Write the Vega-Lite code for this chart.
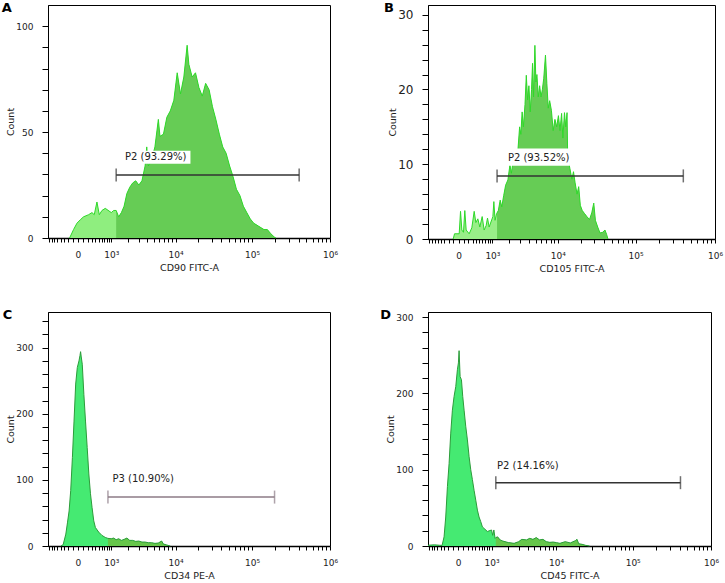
{
  "$schema": "https://vega.github.io/schema/vega-lite/v6.json",
  "background": "white",
  "padding": {"left": 1, "top": 1, "right": 2, "bottom": 1},
  "datasets": {
    "a": [
      {"v": -168, "n": 0}, {"v": -83, "n": 4}, {"v": -18, "n": 7}, {"v": 42, "n": 8.6}, {"v": 107, "n": 10}, {"v": 220, "n": 11}, {"v": 306, "n": 12}, {"v": 369, "n": 11}, {"v": 449, "n": 17}, {"v": 524, "n": 11}, {"v": 616, "n": 13}, {"v": 740, "n": 14}, {"v": 1000, "n": 12}, {"v": 1118, "n": 13}, {"v": 1247, "n": 13}, {"v": 1389, "n": 10}, {"v": 1554, "n": 12}, {"v": 1732, "n": 15}, {"v": 1931, "n": 21}, {"v": 2159, "n": 24}, {"v": 2407, "n": 26}, {"v": 2683, "n": 27}, {"v": 3000, "n": 25}, {"v": 3344, "n": 27}, {"v": 3728, "n": 34}, {"v": 3942, "n": 43}, {"v": 4169, "n": 34}, {"v": 4647, "n": 37}, {"v": 5179, "n": 43}, {"v": 5794, "n": 56}, {"v": 6105, "n": 48}, {"v": 6828, "n": 49}, {"v": 7610, "n": 57}, {"v": 8483, "n": 60}, {"v": 9487, "n": 65}, {"v": 10540, "n": 78}, {"v": 11660, "n": 68}, {"v": 12940, "n": 76}, {"v": 14320, "n": 91}, {"v": 15090, "n": 82}, {"v": 16700, "n": 76}, {"v": 18480, "n": 78}, {"v": 20510, "n": 71}, {"v": 22700, "n": 67}, {"v": 25120, "n": 73}, {"v": 27880, "n": 70}, {"v": 30860, "n": 62}, {"v": 34150, "n": 56}, {"v": 37910, "n": 49}, {"v": 41950, "n": 43}, {"v": 46420, "n": 40}, {"v": 51520, "n": 34}, {"v": 57020, "n": 29}, {"v": 63100, "n": 23}, {"v": 70040, "n": 20}, {"v": 77500, "n": 15}, {"v": 85770, "n": 12}, {"v": 95210, "n": 9}, {"v": 105300, "n": 7}, {"v": 122500, "n": 5.5}, {"v": 142500, "n": 4}, {"v": 157500, "n": 4}, {"v": 174700, "n": 2}, {"v": 193000, "n": 0.5}, {"v": 203200, "n": 0}
    ],
    "b": [
      {"v": -100, "n": 0}, {"v": -73, "n": 0.7}, {"v": 12, "n": 0.7}, {"v": 36, "n": 3.7}, {"v": 61, "n": 1.2}, {"v": 93, "n": 0.9}, {"v": 120, "n": 3.8}, {"v": 149, "n": 1.2}, {"v": 217, "n": 0.7}, {"v": 282, "n": 1.5}, {"v": 344, "n": 3.7}, {"v": 391, "n": 2.2}, {"v": 450, "n": 2.7}, {"v": 512, "n": 1.6}, {"v": 590, "n": 3.0}, {"v": 660, "n": 1.2}, {"v": 735, "n": 1.8}, {"v": 788, "n": 2.8}, {"v": 856, "n": 1.6}, {"v": 1022, "n": 3.0}, {"v": 1068, "n": 5.0}, {"v": 1127, "n": 2.5}, {"v": 1204, "n": 3.4}, {"v": 1230, "n": 3.5}, {"v": 1299, "n": 3.8}, {"v": 1403, "n": 5.2}, {"v": 1497, "n": 4.3}, {"v": 1616, "n": 5.8}, {"v": 1745, "n": 7.2}, {"v": 1904, "n": 7.9}, {"v": 2055, "n": 9.9}, {"v": 2170, "n": 8.8}, {"v": 2317, "n": 10.5}, {"v": 2501, "n": 11.5}, {"v": 2700, "n": 11}, {"v": 2914, "n": 15}, {"v": 3043, "n": 14}, {"v": 3180, "n": 17}, {"v": 3321, "n": 15}, {"v": 3508, "n": 18}, {"v": 3664, "n": 21.9}, {"v": 3828, "n": 18.6}, {"v": 3999, "n": 20.5}, {"v": 4178, "n": 17}, {"v": 4364, "n": 20}, {"v": 4508, "n": 23.5}, {"v": 4658, "n": 19}, {"v": 4867, "n": 25.9}, {"v": 5028, "n": 21}, {"v": 5195, "n": 22}, {"v": 5428, "n": 19}, {"v": 5671, "n": 20.5}, {"v": 5924, "n": 19}, {"v": 6188, "n": 20}, {"v": 6464, "n": 21.5}, {"v": 6826, "n": 24.6}, {"v": 7131, "n": 20.8}, {"v": 7447, "n": 17.5}, {"v": 7780, "n": 18.5}, {"v": 8217, "n": 17.2}, {"v": 8678, "n": 14.5}, {"v": 9165, "n": 16}, {"v": 9678, "n": 15}, {"v": 10196, "n": 16.5}, {"v": 10704, "n": 14.5}, {"v": 11237, "n": 16.8}, {"v": 11683, "n": 13.5}, {"v": 12263, "n": 16.9}, {"v": 12749, "n": 15}, {"v": 13256, "n": 16.9}, {"v": 13515, "n": 11}, {"v": 14465, "n": 9.4}, {"v": 15336, "n": 8.0}, {"v": 16099, "n": 9.0}, {"v": 16899, "n": 7.5}, {"v": 17919, "n": 6.0}, {"v": 18810, "n": 7.0}, {"v": 19745, "n": 4.5}, {"v": 20925, "n": 3.8}, {"v": 22398, "n": 3.4}, {"v": 23975, "n": 3.0}, {"v": 25920, "n": 2.6}, {"v": 27733, "n": 3.5}, {"v": 29400, "n": 4.8}, {"v": 30865, "n": 2.5}, {"v": 33040, "n": 1.6}, {"v": 35360, "n": 0.8}, {"v": 38220, "n": 0.9}, {"v": 40910, "n": 1.2}, {"v": 42950, "n": 0.6}, {"v": 44650, "n": 0}
    ],
    "c": [
      {"v": -392, "n": 0}, {"v": -328, "n": 2}, {"v": -258, "n": 18}, {"v": -218, "n": 35}, {"v": -179, "n": 53}, {"v": -143, "n": 84}, {"v": -107, "n": 134}, {"v": -74, "n": 189}, {"v": -42, "n": 245}, {"v": -12, "n": 270}, {"v": 18, "n": 280}, {"v": 36, "n": 288}, {"v": 48, "n": 294}, {"v": 61, "n": 286}, {"v": 81, "n": 275}, {"v": 114, "n": 229}, {"v": 149, "n": 189}, {"v": 187, "n": 149}, {"v": 226, "n": 109}, {"v": 267, "n": 79}, {"v": 309, "n": 58}, {"v": 355, "n": 38}, {"v": 402, "n": 28}, {"v": 504, "n": 21}, {"v": 616, "n": 16}, {"v": 739, "n": 13}, {"v": 850, "n": 11.5}, {"v": 1000, "n": 11}, {"v": 1116, "n": 12}, {"v": 1245, "n": 9.5}, {"v": 1389, "n": 11}, {"v": 1551, "n": 8.5}, {"v": 1730, "n": 10}, {"v": 1931, "n": 12}, {"v": 2154, "n": 8.5}, {"v": 2404, "n": 8.5}, {"v": 2683, "n": 7}, {"v": 2994, "n": 7.5}, {"v": 3341, "n": 6}, {"v": 3728, "n": 6}, {"v": 4160, "n": 5}, {"v": 4642, "n": 5}, {"v": 5179, "n": 4}, {"v": 5780, "n": 4.5}, {"v": 6449, "n": 7.5}, {"v": 6813, "n": 3}, {"v": 7603, "n": 1.5}, {"v": 8483, "n": 0}
    ],
    "d": [
      {"v": -850, "n": 1}, {"v": -601, "n": 1.5}, {"v": -437, "n": 1}, {"v": -359, "n": 0.8}, {"v": -305, "n": 12}, {"v": -262, "n": 38}, {"v": -220, "n": 78}, {"v": -181, "n": 108}, {"v": -144, "n": 148}, {"v": -109, "n": 178}, {"v": -75, "n": 196}, {"v": -42, "n": 209}, {"v": -12, "n": 231}, {"v": 6, "n": 240}, {"v": 18, "n": 256}, {"v": 37, "n": 222}, {"v": 62, "n": 218}, {"v": 88, "n": 196}, {"v": 116, "n": 178}, {"v": 151, "n": 157}, {"v": 189, "n": 139}, {"v": 229, "n": 117}, {"v": 270, "n": 100}, {"v": 313, "n": 87}, {"v": 359, "n": 73}, {"v": 408, "n": 60}, {"v": 458, "n": 47}, {"v": 510, "n": 38}, {"v": 566, "n": 32}, {"v": 625, "n": 25}, {"v": 687, "n": 23}, {"v": 818, "n": 19}, {"v": 1000, "n": 21}, {"v": 1055, "n": 14}, {"v": 1114, "n": 21}, {"v": 1176, "n": 10}, {"v": 1215, "n": 11}, {"v": 1310, "n": 12}, {"v": 1460, "n": 8}, {"v": 1627, "n": 6.5}, {"v": 2019, "n": 4.5}, {"v": 2506, "n": 3.5}, {"v": 2948, "n": 5.7}, {"v": 3284, "n": 8.7}, {"v": 3862, "n": 8}, {"v": 4303, "n": 10}, {"v": 4795, "n": 8.7}, {"v": 5343, "n": 11}, {"v": 5953, "n": 8}, {"v": 6633, "n": 8.7}, {"v": 7388, "n": 5.7}, {"v": 8233, "n": 4.8}, {"v": 9171, "n": 5.2}, {"v": 10207, "n": 4.4}, {"v": 11306, "n": 3.5}, {"v": 13318, "n": 5.7}, {"v": 15530, "n": 4}, {"v": 18110, "n": 7}, {"v": 19055, "n": 8.7}, {"v": 20055, "n": 3}, {"v": 22220, "n": 2.2}, {"v": 24610, "n": 0.9}, {"v": 27830, "n": 0}
    ],
    "gates": [
      {"p": "A", "g1": 1247, "g2": 403000, "gy": 29.8, "label": "P2 (93.29%)", "lx": 1790, "ly": 38.2, "bx1": 1554, "bx2": 15850, "by1": 35, "by2": 41.2},
      {"p": "B", "g1": 1230, "g2": 399600, "gy": 8.44, "label": "P2 (93.52%)", "lx": 1904, "ly": 10.9, "bx1": 1803, "bx2": 14465, "by1": 9.8, "by2": 12.1},
      {"p": "C", "g1": 850, "g2": 195000, "gy": 74, "label": "P3 (10.90%)", "lx": 1056, "ly": 101.7},
      {"p": "D", "g1": 1215, "g2": 408000, "gy": 83, "label": "P2 (14.16%)", "lx": 1282, "ly": 105}
    ]
  },
  "columns": 2,
  "spacing": {"row": 73, "column": 98},
  "bounds": "flush",
  "concat": [
    {
      "width": 282, "height": 233,
      "title": {"text": "A"},
      "layer": [
        {"data": {"name": "a"}, "mark": {"type": "area", "color": "#8fee7f"},
         "encoding": {
           "x": {"field": "v", "type": "quantitative", "title": "CD90 FITC-A",
                 "scale": {"type": "symlog", "constant": 600, "domain": [-850, 1000000], "nice": false, "zero": false},
                 "axis": {"tickCount": 500, "labelOverlap": false, "labelFlush": false, "values": [-800,-700,-600,-500,-400,-300,-200,-100,0,100,200,300,400,500,600,700,800,900,1000,2000,3000,4000,5000,6000,7000,8000,9000,10000,20000,30000,40000,50000,60000,70000,80000,90000,100000,200000,300000,400000,500000,600000,700000,800000,900000,1000000],
                          "labelExpr": "datum.value === 0 ? '0' : datum.value === 1000 ? '10³' : datum.value === 10000 ? '10⁴' : datum.value === 100000 ? '10⁵' : datum.value === 1000000 ? '10⁶' : ''"}},
           "y": {"field": "n", "type": "quantitative", "title": "Count",
                 "scale": {"domain": [0, 110], "nice": false},
                 "axis": {"tickCount": 500, "labelOverlap": false, "values": [0,10,20,30,40,50,60,70,80,90,100], "labelExpr": "datum.value % 50 === 0 ? format(datum.value, 'd') : ''"}}
         }},
        {"data": {"name": "a"}, "transform": [{"filter": "datum.v >= 1247"}], "mark": {"type": "area", "color": "#66cc55"},
         "encoding": {"x": {"field": "v", "type": "quantitative", "title": "CD90 FITC-A"}, "y": {"field": "n", "type": "quantitative", "title": "Count"}}},
        {"data": {"name": "a"}, "mark": {"type": "line", "color": "#2fd82a", "strokeWidth": 1},
         "encoding": {"x": {"field": "v", "type": "quantitative", "title": "CD90 FITC-A"}, "y": {"field": "n", "type": "quantitative", "title": "Count"}}},
        {"data": {"name": "gates"}, "transform": [{"filter": "datum.p === 'A'"}], "mark": {"type": "rect", "color": "#ffffff"},
         "encoding": {"x": {"field": "bx1", "type": "quantitative", "title": "CD90 FITC-A"}, "x2": {"field": "bx2"}, "y": {"field": "by1", "type": "quantitative", "title": "Count"}, "y2": {"field": "by2"}}},
        {"data": {"name": "gates"}, "transform": [{"filter": "datum.p === 'A'"}], "mark": {"type": "rule", "color": "#333333", "strokeWidth": 1.5},
         "encoding": {"x": {"field": "g1", "type": "quantitative", "title": "CD90 FITC-A"}, "x2": {"field": "g2"}, "y": {"field": "gy", "type": "quantitative", "title": "Count"}}},
        {"data": {"name": "gates"}, "transform": [{"filter": "datum.p === 'A'"}], "mark": {"type": "tick", "orient": "vertical", "size": 13, "thickness": 1.5, "color": "#333333"},
         "encoding": {"x": {"field": "g1", "type": "quantitative", "title": "CD90 FITC-A"}, "y": {"field": "gy", "type": "quantitative", "title": "Count"}}},
        {"data": {"name": "gates"}, "transform": [{"filter": "datum.p === 'A'"}], "mark": {"type": "tick", "orient": "vertical", "size": 13, "thickness": 1.5, "color": "#333333"},
         "encoding": {"x": {"field": "g2", "type": "quantitative", "title": "CD90 FITC-A"}, "y": {"field": "gy", "type": "quantitative", "title": "Count"}}},
        {"data": {"name": "gates"}, "transform": [{"filter": "datum.p === 'A'"}], "mark": {"type": "text", "align": "left", "baseline": "middle", "font": "DejaVu Sans", "fontSize": 10, "color": "#222222"},
         "encoding": {"x": {"field": "lx", "type": "quantitative", "title": "CD90 FITC-A"}, "y": {"field": "ly", "type": "quantitative", "title": "Count"}, "text": {"field": "label"}}}
      ]
    },
    {
      "width": 287, "height": 234,
      "title": {"text": "B"},
      "layer": [
        {"data": {"name": "b"}, "mark": {"type": "area", "color": "#99ee88"},
         "encoding": {
           "x": {"field": "v", "type": "quantitative", "title": "CD105 FITC-A",
                 "scale": {"type": "symlog", "constant": 600, "domain": [-850, 1000000], "nice": false, "zero": false},
                 "axis": {"tickCount": 500, "labelOverlap": false, "labelFlush": false, "values": [-800,-700,-600,-500,-400,-300,-200,-100,0,100,200,300,400,500,600,700,800,900,1000,2000,3000,4000,5000,6000,7000,8000,9000,10000,20000,30000,40000,50000,60000,70000,80000,90000,100000,200000,300000,400000,500000,600000,700000,800000,900000,1000000],
                          "labelExpr": "datum.value === 0 ? '0' : datum.value === 1000 ? '10³' : datum.value === 10000 ? '10⁴' : datum.value === 100000 ? '10⁵' : datum.value === 1000000 ? '10⁶' : ''"}},
           "y": {"field": "n", "type": "quantitative", "title": "Count",
                 "scale": {"domain": [0, 31.3], "nice": false},
                 "axis": {"tickCount": 500, "labelOverlap": false, "values": [0,2,4,6,8,10,12,14,16,18,20,22,24,26,28,30], "labelFontSize": 12, "labelExpr": "datum.value % 10 === 0 ? format(datum.value, 'd') : ''"}}
         }},
        {"data": {"name": "b"}, "transform": [{"filter": "datum.v >= 1230"}], "mark": {"type": "area", "color": "#66cc55"},
         "encoding": {"x": {"field": "v", "type": "quantitative", "title": "CD105 FITC-A"}, "y": {"field": "n", "type": "quantitative", "title": "Count"}}},
        {"data": {"name": "b"}, "mark": {"type": "line", "color": "#2fd82a", "strokeWidth": 1},
         "encoding": {"x": {"field": "v", "type": "quantitative", "title": "CD105 FITC-A"}, "y": {"field": "n", "type": "quantitative", "title": "Count"}}},
        {"data": {"name": "gates"}, "transform": [{"filter": "datum.p === 'B'"}], "mark": {"type": "rect", "color": "#ffffff"},
         "encoding": {"x": {"field": "bx1", "type": "quantitative", "title": "CD105 FITC-A"}, "x2": {"field": "bx2"}, "y": {"field": "by1", "type": "quantitative", "title": "Count"}, "y2": {"field": "by2"}}},
        {"data": {"name": "gates"}, "transform": [{"filter": "datum.p === 'B'"}], "mark": {"type": "rule", "color": "#333333", "strokeWidth": 1.5},
         "encoding": {"x": {"field": "g1", "type": "quantitative", "title": "CD105 FITC-A"}, "x2": {"field": "g2"}, "y": {"field": "gy", "type": "quantitative", "title": "Count"}}},
        {"data": {"name": "gates"}, "transform": [{"filter": "datum.p === 'B'"}], "mark": {"type": "tick", "orient": "vertical", "size": 13, "thickness": 1.5, "color": "#333333"},
         "encoding": {"x": {"field": "g1", "type": "quantitative", "title": "CD105 FITC-A"}, "y": {"field": "gy", "type": "quantitative", "title": "Count"}}},
        {"data": {"name": "gates"}, "transform": [{"filter": "datum.p === 'B'"}], "mark": {"type": "tick", "orient": "vertical", "size": 13, "thickness": 1.5, "color": "#333333"},
         "encoding": {"x": {"field": "g2", "type": "quantitative", "title": "CD105 FITC-A"}, "y": {"field": "gy", "type": "quantitative", "title": "Count"}}},
        {"data": {"name": "gates"}, "transform": [{"filter": "datum.p === 'B'"}], "mark": {"type": "text", "align": "left", "baseline": "middle", "font": "DejaVu Sans", "fontSize": 10, "color": "#222222"},
         "encoding": {"x": {"field": "lx", "type": "quantitative", "title": "CD105 FITC-A"}, "y": {"field": "ly", "type": "quantitative", "title": "Count"}, "text": {"field": "label"}}}
      ]
    },
    {
      "width": 282, "height": 234,
      "title": {"text": "C"},
      "layer": [
        {"data": {"name": "c"}, "mark": {"type": "area", "color": "#45ea72"},
         "encoding": {
           "x": {"field": "v", "type": "quantitative", "title": "CD34 PE-A",
                 "scale": {"type": "symlog", "constant": 600, "domain": [-850, 1000000], "nice": false, "zero": false},
                 "axis": {"tickCount": 500, "labelOverlap": false, "labelFlush": false, "values": [-800,-700,-600,-500,-400,-300,-200,-100,0,100,200,300,400,500,600,700,800,900,1000,2000,3000,4000,5000,6000,7000,8000,9000,10000,20000,30000,40000,50000,60000,70000,80000,90000,100000,200000,300000,400000,500000,600000,700000,800000,900000,1000000],
                          "labelExpr": "datum.value === 0 ? '0' : datum.value === 1000 ? '10³' : datum.value === 10000 ? '10⁴' : datum.value === 100000 ? '10⁵' : datum.value === 1000000 ? '10⁶' : ''"}},
           "y": {"field": "n", "type": "quantitative", "title": "Count",
                 "scale": {"domain": [0, 354], "nice": false},
                 "axis": {"tickCount": 500, "labelOverlap": false, "values": [0,20,40,60,80,100,120,140,160,180,200,220,240,260,280,300,320,340], "labelExpr": "datum.value % 100 === 0 ? format(datum.value, 'd') : ''"}}
         }},
        {"data": {"name": "c"}, "transform": [{"filter": "datum.v >= 850"}], "mark": {"type": "area", "color": "#66c64a"},
         "encoding": {"x": {"field": "v", "type": "quantitative", "title": "CD34 PE-A"}, "y": {"field": "n", "type": "quantitative", "title": "Count"}}},
        {"data": {"name": "c"}, "mark": {"type": "line", "color": "#2c9c3a", "strokeWidth": 1},
         "encoding": {"x": {"field": "v", "type": "quantitative", "title": "CD34 PE-A"}, "y": {"field": "n", "type": "quantitative", "title": "Count"}}},
        {"data": {"name": "gates"}, "transform": [{"filter": "datum.p === 'C'"}], "mark": {"type": "rule", "color": "#8c7b86", "strokeWidth": 1.5},
         "encoding": {"x": {"field": "g1", "type": "quantitative", "title": "CD34 PE-A"}, "x2": {"field": "g2"}, "y": {"field": "gy", "type": "quantitative", "title": "Count"}}},
        {"data": {"name": "gates"}, "transform": [{"filter": "datum.p === 'C'"}], "mark": {"type": "tick", "orient": "vertical", "size": 13, "thickness": 1.5, "color": "#8c7b86"},
         "encoding": {"x": {"field": "g1", "type": "quantitative", "title": "CD34 PE-A"}, "y": {"field": "gy", "type": "quantitative", "title": "Count"}}},
        {"data": {"name": "gates"}, "transform": [{"filter": "datum.p === 'C'"}], "mark": {"type": "tick", "orient": "vertical", "size": 13, "thickness": 1.5, "color": "#8c7b86"},
         "encoding": {"x": {"field": "g2", "type": "quantitative", "title": "CD34 PE-A"}, "y": {"field": "gy", "type": "quantitative", "title": "Count"}}},
        {"data": {"name": "gates"}, "transform": [{"filter": "datum.p === 'C'"}], "mark": {"type": "text", "align": "left", "baseline": "middle", "font": "DejaVu Sans", "fontSize": 10, "color": "#222222"},
         "encoding": {"x": {"field": "lx", "type": "quantitative", "title": "CD34 PE-A"}, "y": {"field": "ly", "type": "quantitative", "title": "Count"}, "text": {"field": "label"}}}
      ]
    },
    {
      "width": 283, "height": 234,
      "title": {"text": "D"},
      "layer": [
        {"data": {"name": "d"}, "mark": {"type": "area", "color": "#45ea72"},
         "encoding": {
           "x": {"field": "v", "type": "quantitative", "title": "CD45 FITC-A",
                 "scale": {"type": "symlog", "constant": 600, "domain": [-850, 1000000], "nice": false, "zero": false},
                 "axis": {"tickCount": 500, "labelOverlap": false, "labelFlush": false, "values": [-800,-700,-600,-500,-400,-300,-200,-100,0,100,200,300,400,500,600,700,800,900,1000,2000,3000,4000,5000,6000,7000,8000,9000,10000,20000,30000,40000,50000,60000,70000,80000,90000,100000,200000,300000,400000,500000,600000,700000,800000,900000,1000000],
                          "labelExpr": "datum.value === 0 ? '0' : datum.value === 1000 ? '10³' : datum.value === 10000 ? '10⁴' : datum.value === 100000 ? '10⁵' : datum.value === 1000000 ? '10⁶' : ''"}},
           "y": {"field": "n", "type": "quantitative", "title": "Count",
                 "scale": {"domain": [0, 306.7], "nice": false},
                 "axis": {"tickCount": 500, "labelOverlap": false, "values": [0,20,40,60,80,100,120,140,160,180,200,220,240,260,280,300], "labelExpr": "datum.value % 100 === 0 ? format(datum.value, 'd') : ''"}}
         }},
        {"data": {"name": "d"}, "transform": [{"filter": "datum.v >= 1215"}], "mark": {"type": "area", "color": "#66c64a"},
         "encoding": {"x": {"field": "v", "type": "quantitative", "title": "CD45 FITC-A"}, "y": {"field": "n", "type": "quantitative", "title": "Count"}}},
        {"data": {"name": "d"}, "mark": {"type": "line", "color": "#2c9c3a", "strokeWidth": 1},
         "encoding": {"x": {"field": "v", "type": "quantitative", "title": "CD45 FITC-A"}, "y": {"field": "n", "type": "quantitative", "title": "Count"}}},
        {"data": {"name": "gates"}, "transform": [{"filter": "datum.p === 'D'"}], "mark": {"type": "rule", "color": "#333333", "strokeWidth": 1.5},
         "encoding": {"x": {"field": "g1", "type": "quantitative", "title": "CD45 FITC-A"}, "x2": {"field": "g2"}, "y": {"field": "gy", "type": "quantitative", "title": "Count"}}},
        {"data": {"name": "gates"}, "transform": [{"filter": "datum.p === 'D'"}], "mark": {"type": "tick", "orient": "vertical", "size": 13, "thickness": 1.5, "color": "#333333"},
         "encoding": {"x": {"field": "g1", "type": "quantitative", "title": "CD45 FITC-A"}, "y": {"field": "gy", "type": "quantitative", "title": "Count"}}},
        {"data": {"name": "gates"}, "transform": [{"filter": "datum.p === 'D'"}], "mark": {"type": "tick", "orient": "vertical", "size": 13, "thickness": 1.5, "color": "#333333"},
         "encoding": {"x": {"field": "g2", "type": "quantitative", "title": "CD45 FITC-A"}, "y": {"field": "gy", "type": "quantitative", "title": "Count"}}},
        {"data": {"name": "gates"}, "transform": [{"filter": "datum.p === 'D'"}], "mark": {"type": "text", "align": "left", "baseline": "middle", "font": "DejaVu Sans", "fontSize": 10, "color": "#222222"},
         "encoding": {"x": {"field": "lx", "type": "quantitative", "title": "CD45 FITC-A"}, "y": {"field": "ly", "type": "quantitative", "title": "Count"}, "text": {"field": "label"}}}
      ]
    }
  ],
  "config": {
    "view": {"stroke": "#000000", "strokeWidth": 1},
    "title": {"orient": "left", "anchor": "end", "angle": 0, "align": "left", "baseline": "top", "offset": -16, "dy": -3, "font": "DejaVu Sans", "fontSize": 13, "fontWeight": "bold", "color": "#000000"},
    "axis": {"grid": false, "domainColor": "#000000", "tickColor": "#000000", "labelColor": "#222222", "titleColor": "#222222", "labelFont": "DejaVu Sans", "titleFont": "DejaVu Sans", "labelFontSize": 9, "titleFontSize": 9.5, "titleFontWeight": "normal", "labelFlush": false, "labelOverlap": false},
    "axisX": {"tickSize": 4, "labelPadding": 8, "titlePadding": 3, "domainWidth": 1.5},
    "axisY": {"tickSize": 6, "labelPadding": 9, "titlePadding": 0}
  }
}
